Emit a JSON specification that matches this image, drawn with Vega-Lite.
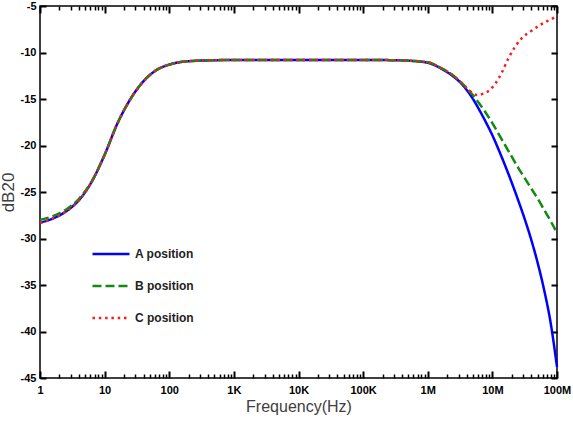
{
  "$schema": "https://vega.github.io/schema/vega-lite/v6.json",
  "width": 517,
  "height": 372,
  "autosize": {"type": "none"},
  "padding": {"left": 40, "top": 6, "right": 16, "bottom": 47},
  "background": "white",
  "config": {
    "view": {"stroke": "black", "strokeWidth": 1.5},
    "axis": {
      "domain": false,
      "grid": false,
      "ticks": true,
      "tickColor": "black",
      "tickWidth": 1.5,
      "labelFont": "Liberation Sans",
      "labelFontWeight": "bold",
      "labelFontSize": 11,
      "labelColor": "black",
      "labelFlush": false,
      "labelOverlap": false,
      "titleFont": "Liberation Sans",
      "titleFontWeight": "normal",
      "titleColor": "#404040"
    },
    "legend": {
      "orient": "none",
      "legendX": 51,
      "legendY": 228,
      "padding": 0,
      "symbolType": "stroke",
      "symbolSize": 1369,
      "symbolStrokeWidth": 2.5,
      "labelFont": "Liberation Sans",
      "labelFontWeight": "bold",
      "labelFontSize": 12,
      "labelColor": "#222222",
      "labelOffset": 4,
      "rowPadding": 6
    }
  },
  "datasets": {
    "curves": [
      {"f": 1, "db": -28.3, "s": "A position"},
      {"f": 1.585, "db": -27.85, "s": "A position"},
      {"f": 2.512, "db": -27.1, "s": "A position"},
      {"f": 3.981, "db": -25.9, "s": "A position"},
      {"f": 6.31, "db": -23.9, "s": "A position"},
      {"f": 10, "db": -21.0, "s": "A position"},
      {"f": 15.85, "db": -17.6, "s": "A position"},
      {"f": 25.12, "db": -15.0, "s": "A position"},
      {"f": 39.81, "db": -13.1, "s": "A position"},
      {"f": 63.1, "db": -11.9, "s": "A position"},
      {"f": 100, "db": -11.3, "s": "A position"},
      {"f": 158.5, "db": -11.0, "s": "A position"},
      {"f": 251.2, "db": -10.9, "s": "A position"},
      {"f": 500, "db": -10.83, "s": "A position"},
      {"f": 1000, "db": -10.8, "s": "A position"},
      {"f": 10000, "db": -10.8, "s": "A position"},
      {"f": 100000, "db": -10.8, "s": "A position"},
      {"f": 251200, "db": -10.82, "s": "A position"},
      {"f": 501200, "db": -10.88, "s": "A position"},
      {"f": 1000000, "db": -11.1, "s": "A position"},
      {"f": 1585000, "db": -11.7, "s": "A position"},
      {"f": 2512000, "db": -12.6, "s": "A position"},
      {"f": 3162000, "db": -13.2, "s": "A position"},
      {"f": 3981000, "db": -14.0, "s": "A position"},
      {"f": 5012000, "db": -15.0, "s": "A position"},
      {"f": 6310000, "db": -16.2, "s": "A position"},
      {"f": 7943000, "db": -17.5, "s": "A position"},
      {"f": 10000000, "db": -18.9, "s": "A position"},
      {"f": 12590000, "db": -20.5, "s": "A position"},
      {"f": 15850000, "db": -22.2, "s": "A position"},
      {"f": 19950000, "db": -24.0, "s": "A position"},
      {"f": 25120000, "db": -25.9, "s": "A position"},
      {"f": 31620000, "db": -27.9, "s": "A position"},
      {"f": 39810000, "db": -30.1, "s": "A position"},
      {"f": 50120000, "db": -32.6, "s": "A position"},
      {"f": 63100000, "db": -35.5, "s": "A position"},
      {"f": 79430000, "db": -39.0, "s": "A position"},
      {"f": 100000000, "db": -43.8, "s": "A position"},

      {"f": 1, "db": -28.0, "s": "B position"},
      {"f": 1.585, "db": -27.6, "s": "B position"},
      {"f": 2.512, "db": -26.9, "s": "B position"},
      {"f": 3.981, "db": -25.75, "s": "B position"},
      {"f": 6.31, "db": -23.85, "s": "B position"},
      {"f": 10, "db": -21.0, "s": "B position"},
      {"f": 15.85, "db": -17.6, "s": "B position"},
      {"f": 25.12, "db": -15.0, "s": "B position"},
      {"f": 39.81, "db": -13.1, "s": "B position"},
      {"f": 63.1, "db": -11.9, "s": "B position"},
      {"f": 100, "db": -11.3, "s": "B position"},
      {"f": 158.5, "db": -11.0, "s": "B position"},
      {"f": 251.2, "db": -10.9, "s": "B position"},
      {"f": 500, "db": -10.83, "s": "B position"},
      {"f": 1000, "db": -10.8, "s": "B position"},
      {"f": 10000, "db": -10.8, "s": "B position"},
      {"f": 100000, "db": -10.8, "s": "B position"},
      {"f": 251200, "db": -10.82, "s": "B position"},
      {"f": 501200, "db": -10.88, "s": "B position"},
      {"f": 1000000, "db": -11.05, "s": "B position"},
      {"f": 1585000, "db": -11.65, "s": "B position"},
      {"f": 2512000, "db": -12.5, "s": "B position"},
      {"f": 3162000, "db": -13.1, "s": "B position"},
      {"f": 3981000, "db": -13.8, "s": "B position"},
      {"f": 5012000, "db": -14.6, "s": "B position"},
      {"f": 6310000, "db": -15.5, "s": "B position"},
      {"f": 7943000, "db": -16.5, "s": "B position"},
      {"f": 10000000, "db": -17.6, "s": "B position"},
      {"f": 12590000, "db": -18.8, "s": "B position"},
      {"f": 15850000, "db": -20.0, "s": "B position"},
      {"f": 19950000, "db": -21.2, "s": "B position"},
      {"f": 25120000, "db": -22.4, "s": "B position"},
      {"f": 31620000, "db": -23.5, "s": "B position"},
      {"f": 39810000, "db": -24.6, "s": "B position"},
      {"f": 50120000, "db": -25.7, "s": "B position"},
      {"f": 63100000, "db": -26.9, "s": "B position"},
      {"f": 79430000, "db": -28.1, "s": "B position"},
      {"f": 100000000, "db": -29.4, "s": "B position"},

      {"f": 1, "db": -28.3, "s": "C position"},
      {"f": 1.585, "db": -27.85, "s": "C position"},
      {"f": 2.512, "db": -27.1, "s": "C position"},
      {"f": 3.981, "db": -25.9, "s": "C position"},
      {"f": 6.31, "db": -23.9, "s": "C position"},
      {"f": 10, "db": -21.0, "s": "C position"},
      {"f": 15.85, "db": -17.6, "s": "C position"},
      {"f": 25.12, "db": -15.0, "s": "C position"},
      {"f": 39.81, "db": -13.1, "s": "C position"},
      {"f": 63.1, "db": -11.9, "s": "C position"},
      {"f": 100, "db": -11.3, "s": "C position"},
      {"f": 158.5, "db": -11.0, "s": "C position"},
      {"f": 251.2, "db": -10.9, "s": "C position"},
      {"f": 500, "db": -10.83, "s": "C position"},
      {"f": 1000, "db": -10.8, "s": "C position"},
      {"f": 10000, "db": -10.8, "s": "C position"},
      {"f": 100000, "db": -10.8, "s": "C position"},
      {"f": 251200, "db": -10.82, "s": "C position"},
      {"f": 501200, "db": -10.88, "s": "C position"},
      {"f": 1000000, "db": -11.05, "s": "C position"},
      {"f": 1585000, "db": -11.65, "s": "C position"},
      {"f": 2512000, "db": -12.5, "s": "C position"},
      {"f": 3162000, "db": -13.1, "s": "C position"},
      {"f": 3981000, "db": -13.8, "s": "C position"},
      {"f": 5012000, "db": -14.4, "s": "C position"},
      {"f": 5754000, "db": -14.57, "s": "C position"},
      {"f": 7079000, "db": -14.45, "s": "C position"},
      {"f": 8913000, "db": -14.1, "s": "C position"},
      {"f": 11220000, "db": -13.3, "s": "C position"},
      {"f": 14130000, "db": -12.1, "s": "C position"},
      {"f": 17780000, "db": -10.6, "s": "C position"},
      {"f": 22390000, "db": -9.4, "s": "C position"},
      {"f": 28180000, "db": -8.5, "s": "C position"},
      {"f": 39810000, "db": -7.7, "s": "C position"},
      {"f": 56230000, "db": -7.0, "s": "C position"},
      {"f": 79430000, "db": -6.45, "s": "C position"},
      {"f": 100000000, "db": -6.1, "s": "C position"}
    ]
  },
  "data": {"name": "curves"},
  "layer": [
    {
      "mark": {"type": "line", "interpolate": "monotone", "strokeWidth": 2.5, "strokeCap": "butt"},
      "encoding": {
        "x": {
          "field": "f", "type": "quantitative",
          "scale": {"type": "log", "domain": [1, 100000000], "nice": false},
          "axis": {
            "orient": "bottom",
            "values": [1, 10, 100, 1000, 10000, 100000, 1000000, 10000000, 100000000],
            "ticks": false,
            "labelPadding": 6,
            "labelExpr": "datum.value >= 1000000 ? (round(datum.value/1000000) + 'M') : datum.value >= 1000 ? (round(datum.value/1000) + 'K') : ('' + datum.value)",
            "title": "Frequency(Hz)",
            "titleFontSize": 16,
            "titleBaseline": "alphabetic",
            "titleY": 33
          }
        },
        "y": {
          "field": "db", "type": "quantitative",
          "scale": {"domain": [-45, -5], "nice": false, "zero": false},
          "axis": {
            "orient": "left",
            "values": [-45, -40, -35, -30, -25, -20, -15, -10, -5],
            "ticks": false,
            "labelPadding": 4,
            "labelExpr": "'' + datum.value",
            "title": "dB20",
            "titleFontSize": 17,
            "titleAngle": 270,
            "titleBaseline": "alphabetic",
            "titleAlign": "center",
            "titleX": -27,
            "titleY": 186
          }
        },
        "color": {
          "field": "s", "type": "nominal",
          "scale": {"domain": ["A position", "B position", "C position"], "range": ["#0000ff", "#108a10", "#ff1a1a"]},
          "legend": {"title": null}
        },
        "strokeDash": {
          "field": "s", "type": "nominal",
          "scale": {"domain": ["A position", "B position", "C position"], "range": [[1, 0], [9, 4], [2.5, 3.8]]},
          "legend": {"title": null}
        }
      }
    },
    {
      "mark": {"type": "line", "strokeOpacity": 0},
      "encoding": {
        "x": {
          "field": "f", "type": "quantitative",
          "axis": {
            "orient": "top", "offset": -372,
            "values": [1, 10, 100, 1000, 10000, 100000, 1000000, 10000000, 100000000],
            "tickSize": 7, "tickColor": "black", "tickWidth": 2, "labels": false, "title": null
          }
        },
        "y": {
          "field": "db", "type": "quantitative",
          "axis": {
            "orient": "right", "offset": -517,
            "values": [-45, -40, -35, -30, -25, -20, -15, -10, -5],
            "tickSize": 6, "tickColor": "black", "tickWidth": 2, "labels": false, "title": null
          }
        },
        "detail": {"field": "s"}
      }
    },
    {
      "mark": {"type": "line", "strokeOpacity": 0},
      "encoding": {
        "x": {
          "field": "f", "type": "quantitative",
          "axis": {
            "orient": "bottom", "offset": -372,
            "values": [1, 10, 100, 1000, 10000, 100000, 1000000, 10000000, 100000000],
            "tickSize": 7, "tickColor": "black", "tickWidth": 2, "labels": false, "title": null
          }
        },
        "y": {
          "field": "db", "type": "quantitative",
          "axis": {
            "orient": "left", "offset": -517,
            "values": [-45, -40, -35, -30, -25, -20, -15, -10, -5],
            "tickSize": 6, "tickColor": "black", "tickWidth": 2, "labels": false, "title": null
          }
        },
        "detail": {"field": "s"}
      }
    },
    {
      "mark": {"type": "line", "strokeOpacity": 0},
      "encoding": {
        "x": {
          "field": "f", "type": "quantitative",
          "axis": {
            "orient": "top", "offset": -372,
            "values": [2,3,4,5,6,7,8,9,20,30,40,50,60,70,80,90,200,300,400,500,600,700,800,900,2000,3000,4000,5000,6000,7000,8000,9000,20000,30000,40000,50000,60000,70000,80000,90000,200000,300000,400000,500000,600000,700000,800000,900000,2000000,3000000,4000000,5000000,6000000,7000000,8000000,9000000,20000000,30000000,40000000,50000000,60000000,70000000,80000000,90000000],
            "tickSize": 4, "tickColor": "black", "tickWidth": 1.5, "labels": false, "title": null
          }
        },
        "y": {"field": "db", "type": "quantitative", "axis": null},
        "detail": {"field": "s"}
      }
    },
    {
      "mark": {"type": "line", "strokeOpacity": 0},
      "encoding": {
        "x": {
          "field": "f", "type": "quantitative",
          "axis": {
            "orient": "bottom", "offset": -372,
            "values": [2,3,4,5,6,7,8,9,20,30,40,50,60,70,80,90,200,300,400,500,600,700,800,900,2000,3000,4000,5000,6000,7000,8000,9000,20000,30000,40000,50000,60000,70000,80000,90000,200000,300000,400000,500000,600000,700000,800000,900000,2000000,3000000,4000000,5000000,6000000,7000000,8000000,9000000,20000000,30000000,40000000,50000000,60000000,70000000,80000000,90000000],
            "tickSize": 4, "tickColor": "black", "tickWidth": 1.5, "labels": false, "title": null
          }
        },
        "y": {"field": "db", "type": "quantitative", "axis": null},
        "detail": {"field": "s"}
      }
    }
  ],
  "resolve": {"axis": {"x": "independent", "y": "independent"}}
}
